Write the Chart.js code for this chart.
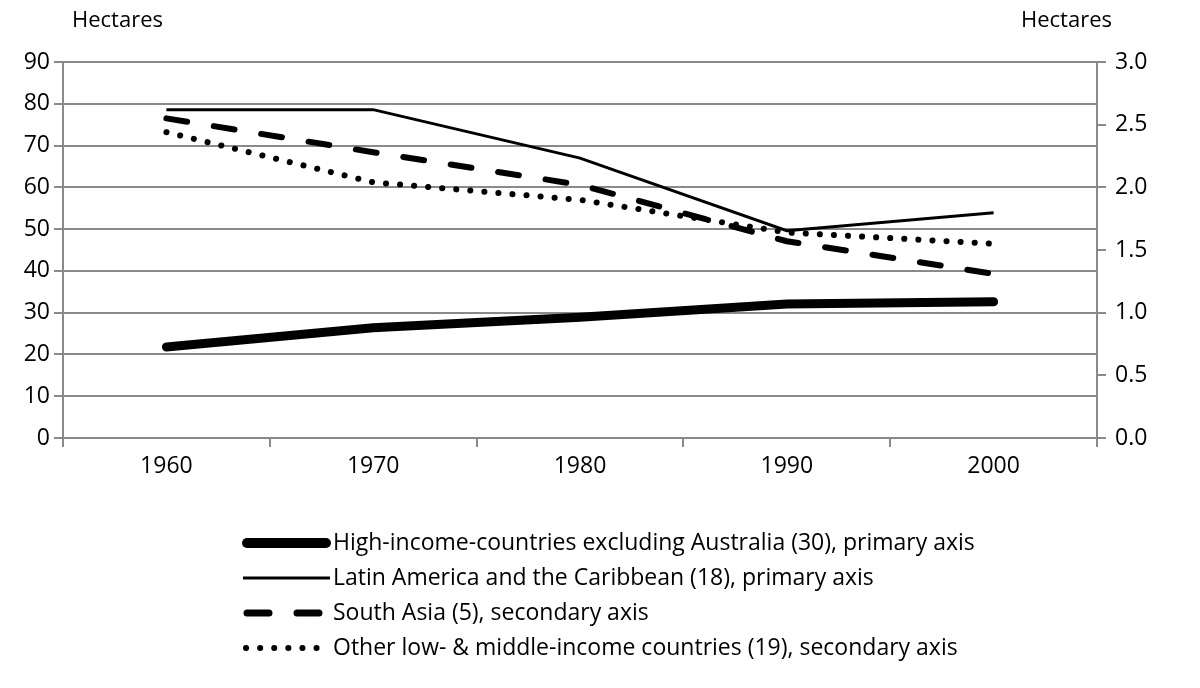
<!DOCTYPE html>
<html lang="en">
<head>
    <meta charset="UTF-8">
    <title>Hectares</title>
    <script src="https://cdn.jsdelivr.net/npm/chart.js"></script>
    <style>
        html, body { margin: 0; padding: 0; background: #fff; }
        .chart-box { width: 1200px; height: 688px; }
    </style>
</head>
<body>
    <div class="chart-box">
        <canvas id="chartHectares" width="1200" height="688"></canvas>
    </div>

    <script>
        const anos = ['1960', '1970', '1980', '1990', '2000'];

        // primary axis (left)
        const highIncome = [21.8, 26.4, 28.9, 32.1, 32.6];
        const latinAmerica = [78.6, 78.6, 67.0, 49.6, 53.9];

        // secondary axis (right)
        const southAsia = [2.55, 2.28, 2.02, 1.57, 1.31];
        const otherLowMiddle = [2.44, 2.04, 1.90, 1.64, 1.55];

        const ticksEsquerda = [0, 10, 20, 30, 40, 50, 60, 70, 80, 90];
        const ticksDireita = [0, 0.5, 1.0, 1.5, 2.0, 2.5, 3.0];

        const nomes = [
            'High-income-countries excluding Australia (30), primary axis',
            'Latin America and the Caribbean (18), primary axis',
            'South Asia (5), secondary axis',
            'Other low- & middle-income countries (19), secondary axis'
        ];

        const fonte = '"Open Sans", "Noto Sans", sans-serif';
        const cinza = '#8a8a8a';

        // legend + axis captions drawn on the canvas
        const legendaManual = {
            id: 'legendaManual',
            afterDraw(chart) {
                const ctx = chart.ctx;
                ctx.save();
                ctx.fillStyle = '#000';
                ctx.font = '22px ' + fonte;
                ctx.textBaseline = 'middle';
                ctx.textAlign = 'left';
                ctx.fillText('Hectares', 72, 21);
                ctx.textAlign = 'right';
                ctx.fillText('Hectares', 1112, 21);

                ctx.font = '23px ' + fonte;
                const x0 = 243, x1 = 330;
                const linhas = [543, 578, 613, 648];
                chart.data.datasets.forEach((ds, i) => {
                    const y = linhas[i];
                    ctx.beginPath();
                    ctx.strokeStyle = '#000';
                    ctx.lineWidth = ds.legendWidth;
                    ctx.lineCap = ds.borderCapStyle;
                    ctx.setLineDash(ds.legendDash);
                    ctx.moveTo(x0 + ds.legendInset, y);
                    ctx.lineTo(x1 - ds.legendInset, y);
                    ctx.stroke();
                    ctx.setLineDash([]);
                    ctx.textAlign = 'left';
                    ctx.fillText(ds.label, 333, y);
                });
                ctx.restore();
            }
        };

        const ctx = document.getElementById('chartHectares').getContext('2d');
        new Chart(ctx, {
            type: 'line',
            data: {
                labels: anos,
                datasets: [{
                    label: nomes[0],
                    data: highIncome,
                    yAxisID: 'y',
                    borderColor: '#000',
                    borderWidth: 9,
                    borderCapStyle: 'round',
                    borderDash: [],
                    legendWidth: 10,
                    legendDash: [],
                    legendInset: 4,
                    pointRadius: 0
                }, {
                    label: nomes[1],
                    data: latinAmerica,
                    yAxisID: 'y',
                    borderColor: '#000',
                    borderWidth: 3,
                    borderCapStyle: 'butt',
                    borderDash: [],
                    legendWidth: 3,
                    legendDash: [],
                    legendInset: 0,
                    pointRadius: 0
                }, {
                    label: nomes[2],
                    data: southAsia,
                    yAxisID: 'y2',
                    borderColor: '#000',
                    borderWidth: 6,
                    borderCapStyle: 'round',
                    borderDash: [21, 27],
                    legendWidth: 7,
                    legendDash: [22, 28],
                    legendInset: 4,
                    pointRadius: 0
                }, {
                    label: nomes[3],
                    data: otherLowMiddle,
                    yAxisID: 'y2',
                    borderColor: '#000',
                    borderWidth: 6,
                    borderCapStyle: 'round',
                    borderDash: [0.1, 14],
                    legendWidth: 6,
                    legendDash: [0.1, 14],
                    legendInset: 3,
                    pointRadius: 0
                }]
            },
            options: {
                responsive: false,
                animation: false,
                layout: { padding: { top: 62, bottom: 200, left: 0, right: 0 } },
                plugins: {
                    legend: { display: false },
                    tooltip: { enabled: false }
                },
                scales: {
                    x: {
                        offset: true,
                        grid: { offset: true, drawOnChartArea: false, drawTicks: true, tickLength: 9, color: cinza, lineWidth: 2 },
                        border: { color: cinza, width: 2 },
                        ticks: { color: '#000', font: { family: fonte, size: 23 }, padding: 6 },
                        afterFit(scale) { scale.height = 50; }
                    },
                    y: {
                        position: 'left',
                        min: 0,
                        max: 90,
                        afterBuildTicks(scale) { scale.ticks = ticksEsquerda.map(v => ({ value: v })); },
                        grid: { color: cinza, lineWidth: 2, tickLength: 9 },
                        border: { color: cinza, width: 2 },
                        ticks: { color: '#000', font: { family: fonte, size: 23 }, padding: 4 },
                        afterFit(scale) { scale.width = 63; }
                    },
                    y2: {
                        position: 'right',
                        min: 0,
                        max: 3,
                        afterBuildTicks(scale) { scale.ticks = ticksDireita.map(v => ({ value: v })); },
                        grid: { drawOnChartArea: false, color: cinza, lineWidth: 2, tickLength: 9 },
                        border: { color: cinza, width: 2 },
                        ticks: {
                            color: '#000',
                            font: { family: fonte, size: 23 },
                            padding: 9,
                            callback: v => v.toFixed(1)
                        },
                        afterFit(scale) { scale.width = 103; }
                    }
                }
            },
            plugins: [legendaManual]
        });
    </script>
</body>
</html>
